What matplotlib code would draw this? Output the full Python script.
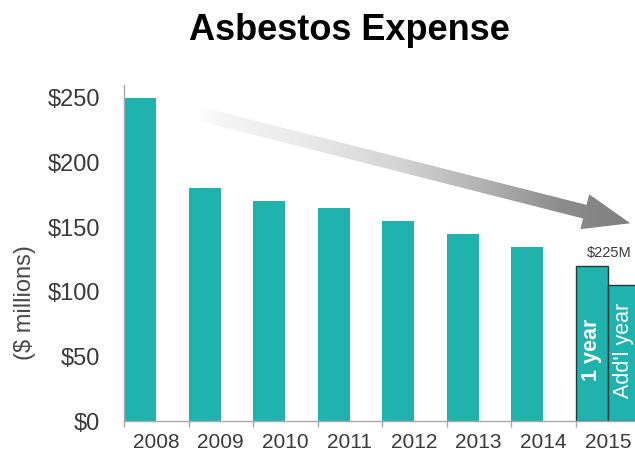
import numpy as np
import matplotlib.pyplot as plt
from matplotlib.colors import LinearSegmentedColormap
from matplotlib.patches import Polygon

plt.rcParams['font.family'] = ['Liberation Sans', 'DejaVu Sans']

years = ['2008', '2009', '2010', '2011', '2012', '2013', '2014', '2015']
expense = [250, 180, 170, 165, 155, 145, 135]      # $ millions, 2008-2014
expense2015 = [120, 105]                           # 2015 split: 1 year + add'l year
parts2015 = ['1 year', "Add'l year"]
yTicks = [0, 50, 100, 150, 200, 250]

teal = '#20b2ad'
axisGray = '#a8a8a8'
textGray = '#3a3a3a'

fig = plt.figure(figsize=(6.35, 4.55), dpi=100)
ax = fig.add_axes([124 / 635, 34 / 455, 511 / 635, 336 / 455])

# bars sit in the left half of each year slot
xs = np.arange(len(expense))
ax.bar(xs, expense, width=0.5, align='edge', color=teal, linewidth=0)

x15 = len(expense)
for k, (v, lab) in enumerate(zip(expense2015, parts2015)):
    ax.bar(x15 + 0.5 * k, v, width=0.5, align='edge', color=teal,
           edgecolor='#1c3a39', linewidth=1.0)
    ax.text(x15 + 0.5 * k + 0.25, 55, lab, rotation=90, ha='center', va='center',
            color='white', fontsize=15.5, fontweight='bold' if k == 0 else 'normal')
ax.text(x15 + 0.18, expense2015[0] + 7, '$%dM' % sum(expense2015),
        fontsize=10.5, color=textGray, ha='left', va='baseline')

ax.set_xlim(0, 511 / 64.5)
ax.set_ylim(0, 260)

# x axis: tick marks between years, labels centred in each slot
ax.set_xticks(np.arange(0, 8))
ax.set_xticklabels([])
ax.set_xticks(np.arange(len(years)) + 0.5, minor=True)
ax.set_xticklabels(years, minor=True)
ax.tick_params(axis='x', which='major', length=4, color=axisGray, width=1)
ax.tick_params(axis='x', which='minor', length=0, pad=9, labelsize=15, labelcolor=textGray)

ax.set_yticks(yTicks)
ax.set_yticklabels(['$%d' % t for t in yTicks])
ax.tick_params(axis='y', length=0, pad=17, labelsize=17, labelcolor=textGray)

for s in ['top', 'right']:
    ax.spines[s].set_visible(False)
for s in ['left', 'bottom']:
    ax.spines[s].set_color(axisGray)
    ax.spines[s].set_linewidth(1)

fig.text(25 / 635, 1 - 303 / 455, '($ millions)', rotation=90, ha='center', va='center',
         fontsize=17, color='#4a4a4a')
fig.text(349 / 635, 1 - 30 / 455, 'Asbestos Expense', ha='center', va='center',
         fontsize=26, fontweight='bold', color='black')

# fading trend arrow, built in pixel space then mapped back to data
p0 = ax.transData.transform((1.15, 238))
p1 = ax.transData.transform((7.85, 153))
d = (p1 - p0) / np.linalg.norm(p1 - p0)
n = np.array([-d[1], d[0]])
shaftW, headW, headL = 7, 18, 47
base = p1 - d * headL
pts = [p0 + n * shaftW, base + n * shaftW, base + n * headW, p1,
       base - n * headW, base - n * shaftW, p0 - n * shaftW]
pts = ax.transData.inverted().transform(np.array(pts))
arrow = Polygon(pts, closed=True, facecolor='none', edgecolor='none')
ax.add_patch(arrow)

fade = LinearSegmentedColormap.from_list('fade', [
    (0.00, (1.00, 1.00, 1.00)),
    (0.06, (0.96, 0.96, 0.96)),
    (0.24, (0.92, 0.92, 0.92)),
    (0.47, (0.83, 0.83, 0.83)),
    (0.70, (0.67, 0.67, 0.67)),
    (0.84, (0.55, 0.55, 0.55)),
    (1.00, (0.50, 0.50, 0.50))])
grad = np.linspace(0, 1, 256).reshape(1, -1)
im = ax.imshow(grad, cmap=fade, aspect='auto', interpolation='bilinear',
               extent=[pts[:, 0].min(), pts[:, 0].max(), pts[:, 1].min(), pts[:, 1].max()],
               zorder=3)
im.set_clip_path(arrow)
im.set_clip_on(True)

ax.set_xlim(0, 511 / 64.5)
ax.set_ylim(0, 260)

fig.savefig('out.png', dpi=100)
